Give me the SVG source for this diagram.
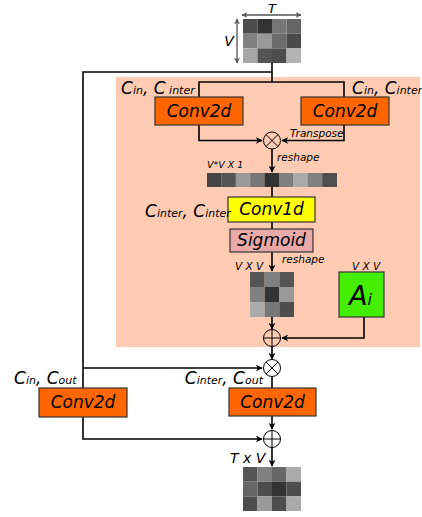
<svg xmlns="http://www.w3.org/2000/svg" width="422" height="517" viewBox="0 0 422 517">
<style>
text{font-family:"DejaVu Sans",sans-serif;font-style:italic;fill:#000}
.box{stroke:#333;stroke-width:1.2}
.conv{fill:#ff6600}
.lbl{font-size:17px}
.sub{font-size:11px}
.cn{font-size:17px;text-anchor:middle}
.sm{font-size:10.5px}
.ln{fill:none;stroke:#000;stroke-width:1.6}
.op{fill:none;stroke:#000;stroke-width:1}
.dim{stroke:#555;stroke-width:1.3;fill:none}
</style>
<defs>
<marker id="ah" viewBox="0 0 10 10" refX="9" refY="5" markerWidth="7" markerHeight="7" orient="auto" markerUnits="userSpaceOnUse">
<path d="M0,0 L10,5 L0,10 L3,5 Z" fill="#000"/>
</marker>
<marker id="dh" viewBox="0 0 10 10" refX="9" refY="5" markerWidth="6" markerHeight="6" orient="auto-start-reverse" markerUnits="userSpaceOnUse">
<path d="M0,0 L10,5 L0,10 L3,5 Z" fill="#555"/>
</marker>
</defs>

<rect id="bg" x="116" y="77" width="304" height="270" fill="#ffccb3"/>

<g id="input">
<g stroke="none">
<rect x="243" y="19" width="14.5" height="14.7" fill="#4d4d4d"/><rect x="257.5" y="19" width="14.5" height="14.7" fill="#333"/><rect x="272" y="19" width="14.5" height="14.7" fill="#777"/><rect x="286.5" y="19" width="14.5" height="14.7" fill="#666"/>
<rect x="243" y="33.7" width="14.5" height="14.7" fill="#808080"/><rect x="257.5" y="33.7" width="14.5" height="14.7" fill="#999"/><rect x="272" y="33.7" width="14.5" height="14.7" fill="#6b6b6b"/><rect x="286.5" y="33.7" width="14.5" height="14.7" fill="#4a4a4a"/>
<rect x="243" y="48.4" width="14.5" height="14.6" fill="#a6a6a6"/><rect x="257.5" y="48.4" width="14.5" height="14.6" fill="#555"/><rect x="272" y="48.4" width="14.5" height="14.6" fill="#4d4d4d"/><rect x="286.5" y="48.4" width="14.5" height="14.6" fill="#b3b3b3"/>
</g>
<line class="dim" x1="242" y1="15" x2="301" y2="15" marker-start="url(#dh)" marker-end="url(#dh)"/>
<line class="dim" x1="237" y1="19" x2="237" y2="63" marker-start="url(#dh)" marker-end="url(#dh)"/>
<text x="272" y="13" font-size="13" text-anchor="middle">T</text>
<text x="229" y="46" font-size="14" text-anchor="middle">V</text>
</g>

<g id="connectors">
<path class="ln" d="M272,63 V82 M199,97 V82 H344 V97"/>
<path class="ln" d="M272,72 H83 V388"/>
<path class="ln" d="M199,125 V140.5 H262" marker-end="url(#ah)"/>
<path class="ln" d="M344,125 V140.5 H282" marker-end="url(#ah)"/>
<path class="ln" d="M272,149 V172" marker-end="url(#ah)"/>
<path class="ln" d="M272,187 V197 M272,222 V229"/>
<path class="ln" d="M272,252 V271" marker-end="url(#ah)"/>
<path class="ln" d="M272,317 V329" marker-end="url(#ah)"/>
<path class="ln" d="M364,317 V338 H282" marker-end="url(#ah)"/>
<path class="ln" d="M272,346 V359" marker-end="url(#ah)"/>
<path class="ln" d="M83,368 H262" marker-end="url(#ah)"/>
<path class="ln" d="M272,376 V388"/>
<path class="ln" d="M272,416 V429" marker-end="url(#ah)"/>
<path class="ln" d="M83,417 V439 H262" marker-end="url(#ah)"/>
<path class="ln" d="M272,447 V466" marker-end="url(#ah)"/>
</g>

<g id="conv2d_a">
<rect class="box conv" x="155" y="97" width="88" height="28"/>
<text class="cn" x="199" y="117">Conv2d</text>
<text x="121" y="94"><tspan class="lbl">C</tspan><tspan class="sub">in</tspan><tspan class="lbl">, C</tspan><tspan class="sub"> inter</tspan></text>
</g>
<g id="conv2d_b">
<rect class="box conv" x="301" y="97" width="88" height="28"/>
<text class="cn" x="345" y="117">Conv2d</text>
<text x="352" y="94"><tspan class="lbl">C</tspan><tspan class="sub">in</tspan><tspan class="lbl">, C</tspan><tspan class="sub">inter</tspan></text>
</g>

<g id="mult1">
<circle class="op" cx="272" cy="140.5" r="8.5"/>
<path class="op" d="M266,134.5 L278,146.5 M278,134.5 L266,146.5"/>
<text class="sm" x="290" y="137">Transpose</text>
</g>

<g id="vector">
<text x="277" y="161" class="sm">reshape</text>
<text x="207" y="168" font-size="9.5">V*V X 1</text>
<g stroke="none">
<rect x="207" y="173" width="14.5" height="14" fill="#444"/><rect x="221.4" y="173" width="14.5" height="14" fill="#555"/><rect x="235.8" y="173" width="14.5" height="14" fill="#999"/><rect x="250.2" y="173" width="14.5" height="14" fill="#777"/><rect x="264.6" y="173" width="14.5" height="14" fill="#333"/><rect x="279" y="173" width="14.5" height="14" fill="#808080"/><rect x="293.4" y="173" width="14.5" height="14" fill="#aaa"/><rect x="307.8" y="173" width="14.5" height="14" fill="#808080"/><rect x="322.2" y="173" width="14.8" height="14" fill="#505050"/>
</g>
</g>

<g id="conv1d">
<rect class="box" fill="#ffff00" x="228" y="197" width="87" height="25"/>
<text class="cn" x="271.5" y="215">Conv1d</text>
<text x="145" y="217"><tspan class="lbl">C</tspan><tspan class="sub">inter</tspan><tspan class="lbl">, C</tspan><tspan class="sub">inter</tspan></text>
</g>

<g id="sigmoid">
<rect class="box" fill="#e9a9a9" x="230" y="229" width="83" height="23"/>
<text class="cn" x="271.5" y="246">Sigmoid</text>
</g>

<g id="attn">
<text class="sm" x="282" y="263">reshape</text>
<text class="sm" x="235" y="270">V X V</text>
<g stroke="none">
<rect x="250" y="272" width="14.7" height="15" fill="#555"/><rect x="264.7" y="272" width="14.7" height="15" fill="#808080"/><rect x="279.4" y="272" width="14.6" height="15" fill="#555"/>
<rect x="250" y="287" width="14.7" height="15" fill="#808080"/><rect x="264.7" y="287" width="14.7" height="15" fill="#333"/><rect x="279.4" y="287" width="14.6" height="15" fill="#999"/>
<rect x="250" y="302" width="14.7" height="15" fill="#aaa"/><rect x="264.7" y="302" width="14.7" height="15" fill="#777"/><rect x="279.4" y="302" width="14.6" height="15" fill="#4d4d4d"/>
</g>
</g>

<g id="Ai">
<rect class="box" fill="#44ee00" x="339" y="272" width="45" height="45"/>
<text x="349" y="305"><tspan font-size="27">A</tspan><tspan font-size="16">i</tspan></text>
<text class="sm" x="352" y="270">V X V</text>
</g>

<g id="plus1">
<circle class="op" cx="272" cy="338" r="8.5"/>
<path class="op" d="M263.5,338 H280.5 M272,329.5 V346.5"/>
</g>

<g id="mult2">
<circle class="op" cx="272" cy="368" r="8.5"/>
<path class="op" d="M266,362 L278,374 M278,362 L266,374"/>
</g>

<g id="conv2d_c">
<rect class="box conv" x="229" y="388" width="87" height="28"/>
<text class="cn" x="272.5" y="408">Conv2d</text>
<text x="263" y="384" text-anchor="end"><tspan class="lbl">C</tspan><tspan class="sub">inter</tspan><tspan class="lbl">, C</tspan><tspan class="sub">out</tspan></text>
</g>

<g id="conv2d_d">
<rect class="box conv" x="39" y="388" width="88" height="29"/>
<text class="cn" x="83" y="408">Conv2d</text>
<text x="14" y="384"><tspan class="lbl">C</tspan><tspan class="sub">in</tspan><tspan class="lbl">, C</tspan><tspan class="sub">out</tspan></text>
</g>

<g id="plus2">
<circle class="op" cx="272" cy="439" r="8.5"/>
<path class="op" d="M263.5,439 H280.5 M272,430.5 V447.5"/>
</g>

<g id="output">
<text x="230" y="463" font-size="14">T x V</text>
<g stroke="none">
<rect x="243" y="467" width="14.5" height="14.7" fill="#555"/><rect x="257.5" y="467" width="14.5" height="14.7" fill="#808080"/><rect x="272" y="467" width="14.5" height="14.7" fill="#666"/><rect x="286.5" y="467" width="14.5" height="14.7" fill="#aaa"/>
<rect x="243" y="481.7" width="14.5" height="14.7" fill="#666"/><rect x="257.5" y="481.7" width="14.5" height="14.7" fill="#4d4d4d"/><rect x="272" y="481.7" width="14.5" height="14.7" fill="#333"/><rect x="286.5" y="481.7" width="14.5" height="14.7" fill="#4d4d4d"/>
<rect x="243" y="496.4" width="14.5" height="14.6" fill="#4d4d4d"/><rect x="257.5" y="496.4" width="14.5" height="14.6" fill="#999"/><rect x="272" y="496.4" width="14.5" height="14.6" fill="#4d4d4d"/><rect x="286.5" y="496.4" width="14.5" height="14.6" fill="#aaa"/>
</g>
</g>
</svg>
